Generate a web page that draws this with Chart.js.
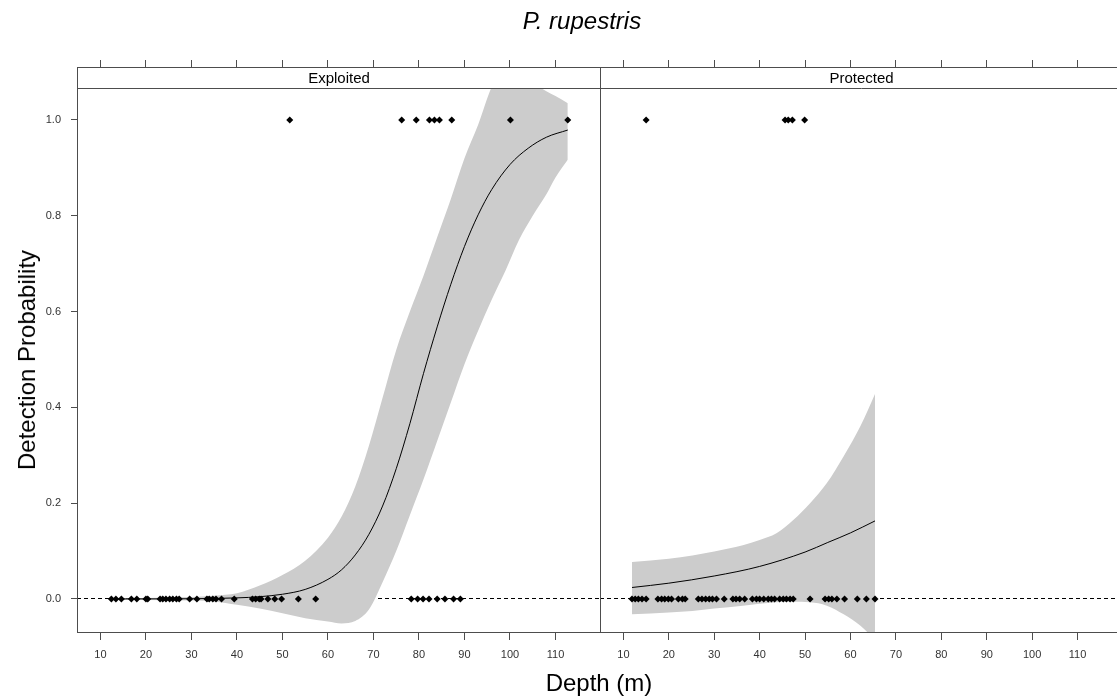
<!DOCTYPE html>
<html>
<head>
<meta charset="utf-8">
<title>P. rupestris</title>
<script src="https://cdn.jsdelivr.net/npm/chart.js@4.4.1/dist/chart.umd.min.js"></script>
<style>
  html, body { margin: 0; padding: 0; background: #fff; overflow: hidden; width: 1117px; height: 698px; }
  body { position: relative; font-family: "Liberation Sans", Arial, sans-serif; }
  .panel { position: absolute; top: 0; }
  #leftPanel { left: 0; }
  #rightPanel { left: 600px; }
  .txt { position: absolute; white-space: nowrap; color: #000; }
  #title { left: 582px; top: 9px; font-size: 24px; line-height: 24px; font-style: italic; transform: translateX(-50%); }
  #ylab { left: 27px; top: 360px; font-size: 24px; line-height: 24px; transform: translate(-50%, -50%) rotate(-90deg); }
  #xlab { left: 599px; top: 671px; font-size: 24px; line-height: 24px; transform: translateX(-50%); }
</style>
</head>
<body>
<canvas id="leftPanel" class="panel" width="601" height="698"></canvas>
<canvas id="rightPanel" class="panel" width="523" height="698"></canvas>
<div id="title" class="txt">P. rupestris</div>
<div id="ylab" class="txt">Detection Probability</div>
<div id="xlab" class="txt">Depth (m)</div>

<script>
// ==================== DATA ====================
const panelNames = ['Exploited', 'Protected'];
const xTicks = [10, 20, 30, 40, 50, 60, 70, 80, 90, 100, 110];
const yTicks = [0, 0.2, 0.4, 0.6, 0.8, 1.0];

// Exploited: observed detections (1) and non-detections (0), depth in m
const expDepth1 = [51.6, 76.2, 79.4, 82.3, 83.4, 84.5, 87.2, 100.1, 112.7];
const expDepth0 = [12.4, 13.4, 14.6, 16.8, 18.0, 20.0, 20.4, 23.1, 23.7, 24.4, 25.2, 25.9, 26.7, 27.3,
  29.6, 31.2, 33.4, 33.9, 34.7, 35.4, 36.6, 39.4, 43.4, 44.1, 44.9, 45.3, 46.8, 48.3, 49.8, 53.5, 57.3,
  78.3, 79.7, 80.9, 82.2, 84.0, 85.7, 87.6, 89.1];
// Exploited: fitted probability and confidence band
const expFitX = [12.4, 20, 30, 40, 45, 50, 55, 60, 63, 66, 69, 72, 75, 78, 81, 84, 87, 90, 93, 96, 100, 104, 108, 112.7];
const expFitP = [0.0001, 0.0002, 0.0005, 0.0023, 0.0048, 0.0099, 0.020, 0.041, 0.061, 0.092, 0.135, 0.194,
  0.272, 0.366, 0.471, 0.568, 0.657, 0.736, 0.802, 0.855, 0.907, 0.941, 0.964, 0.979];
const expBandX = [12.4, 20, 30, 35, 40, 45, 50, 55, 60, 63, 66, 69, 72, 75, 78, 81, 84, 87, 90, 93, 96, 99, 102, 105, 108, 110, 112.7];
const expBandHi = [0.001, 0.002, 0.004, 0.007, 0.012, 0.028, 0.05, 0.08, 0.128, 0.172, 0.235, 0.32, 0.42, 0.52,
  0.60, 0.675, 0.755, 0.835, 0.92, 0.99, 1.07, 1.12, 1.12, 1.08, 1.06, 1.05, 1.035];
const expBandLo = [-0.001, -0.002, -0.003, -0.005, -0.012, -0.02, -0.03, -0.04, -0.047, -0.051, -0.046, -0.022, 0.035,
  0.10, 0.175, 0.25, 0.33, 0.41, 0.49, 0.56, 0.625, 0.685, 0.75, 0.80, 0.845, 0.88, 0.917];

// Protected
const proDepth1 = [15.0, 45.6, 46.3, 47.2, 49.9];
const proDepth0 = [11.9, 12.6, 13.3, 14.1, 15.0, 17.6, 18.4, 19.1, 19.9, 20.6, 22.1, 23.0, 23.6, 26.5, 27.3,
  28.1, 28.9, 29.6, 30.5, 32.2, 34.1, 34.8, 35.6, 36.7, 38.4, 39.3, 40.0, 40.9, 41.9, 42.6, 43.3, 44.4,
  45.2, 45.9, 46.7, 47.4, 51.1, 54.4, 55.2, 55.9, 57.0, 58.7, 61.5, 63.5, 65.4];
const proFitX = [11.9, 20, 30, 40, 50, 55, 60, 65.4];
const proFitP = [0.024, 0.033, 0.048, 0.068, 0.098, 0.118, 0.138, 0.163];
const proBandX = [11.9, 20, 25.2, 30, 36.3, 40, 43.7, 47.4, 51.1, 54.8, 58.5, 62.2, 65.4];
const proBandHi = [0.077, 0.084, 0.091, 0.099, 0.112, 0.123, 0.137, 0.165, 0.2, 0.242, 0.298, 0.361, 0.428];
const proBandLo = [-0.032, -0.028, -0.025, -0.02, -0.014, -0.01, -0.007, -0.006, -0.007, -0.014, -0.032, -0.056, -0.085];

// ==================== STYLE ====================
const FONT = '"Liberation Sans", Arial, sans-serif';
const frameColor = '#4d4d4d';
const labelColor = '#333';
const bandColor = '#cccccc';
const xMin = 4.85, xMax = 120.0;
const yMin = -0.071, yMax = 1.1106;
const stripH = 21;

// ==================== HELPERS ====================
function pairs(xs, ys) { return xs.map((x, i) => ({ x: x, y: ys[i] })); }
function row(xs, v) { return xs.map(x => ({ x: x, y: v })); }

const stripPlugin = {
  id: 'stripPlugin',
  afterDatasetsDraw(chart, args, opts) {
    const ctx = chart.ctx;
    const a = chart.chartArea;
    ctx.save();
    ctx.fillStyle = '#fff';
    ctx.fillRect(a.left, a.top, a.right - a.left, stripH);
    ctx.strokeStyle = frameColor;
    ctx.lineWidth = 1;
    ctx.beginPath();
    ctx.moveTo(a.left, a.top + stripH + 0.5);
    ctx.lineTo(a.right, a.top + stripH + 0.5);
    ctx.stroke();
    ctx.strokeRect(a.left + 0.5, a.top + 0.5, a.right - a.left - 1, a.bottom - a.top - 1);
    ctx.fillStyle = '#000';
    ctx.font = '15px ' + FONT;
    ctx.textAlign = 'center';
    ctx.textBaseline = 'middle';
    ctx.fillText(opts.label, (a.left + a.right) / 2, a.top + stripH / 2 + 1);
    ctx.restore();
  }
};

function dotSet(data) {
  return { data: data, showLine: false, pointStyle: 'rectRot', pointRadius: 3.5,
           backgroundColor: '#000', borderWidth: 0 };
}

function buildDatasets(d1, d0, fx, fp, bx, bhi, blo) {
  return [
    dotSet(row(d1, 1)),
    dotSet(row(d0, 0)),
    { data: pairs(fx, fp), showLine: true, borderColor: '#000', borderWidth: 1, pointRadius: 0,
      fill: false, cubicInterpolationMode: 'monotone' },
    { data: pairs(bx, bhi), showLine: true, borderColor: 'rgba(0,0,0,0)', borderWidth: 0, pointRadius: 0,
      backgroundColor: bandColor, fill: '+1', cubicInterpolationMode: 'monotone' },
    { data: pairs(bx, blo), showLine: true, borderColor: 'rgba(0,0,0,0)', borderWidth: 0, pointRadius: 0,
      fill: false, cubicInterpolationMode: 'monotone' }
  ];
}

// no extra room for tick labels: panels sit edge to edge
function noPadX(s, h) { s.height = h; s.paddingLeft = 0; s.paddingRight = 0; }

function panelOptions(isLeft, label) {
  return {
    responsive: false,
    animation: false,
    events: [],
    layout: { padding: 0, autoPadding: false },
    plugins: {
      legend: { display: false },
      tooltip: { enabled: false },
      stripPlugin: { label: label }
    },
    scales: {
      x: {
        type: 'linear', position: 'bottom', min: xMin, max: xMax,
        afterBuildTicks: s => { s.ticks = xTicks.map(v => ({ value: v })); },
        afterFit: s => noPadX(s, 65),
        grid: { drawOnChartArea: false, drawTicks: true, tickLength: 7, tickColor: frameColor },
        border: { display: false },
        ticks: { color: labelColor, font: { family: FONT, size: 11 }, padding: 8,
                 maxRotation: 0, autoSkip: false, callback: v => String(v) }
      },
      x2: {
        type: 'linear', position: 'top', min: xMin, max: xMax,
        afterBuildTicks: s => { s.ticks = xTicks.map(v => ({ value: v })); },
        afterFit: s => noPadX(s, 67),
        grid: { drawOnChartArea: false, drawTicks: true, tickLength: 7, tickColor: frameColor },
        border: { display: false },
        ticks: { display: false }
      },
      y: {
        type: 'linear', position: 'left', min: yMin, max: yMax, z: 1,
        afterBuildTicks: s => { s.ticks = yTicks.map(v => ({ value: v })); },
        afterFit: s => { s.width = isLeft ? 77 : 0; s.paddingTop = 0; s.paddingBottom = 0; },
        grid: {
          drawTicks: isLeft, tickLength: 6, tickColor: frameColor, lineWidth: 1,
          color: c => (c.tick && c.tick.value === 0) ? '#000' : 'rgba(0,0,0,0)'
        },
        border: { display: false, dash: [4, 3] },
        ticks: { display: isLeft, color: labelColor, font: { family: FONT, size: 11 }, padding: 10,
                 callback: v => Number(v).toFixed(1) }
      }
    }
  };
}

// ==================== CHARTS ====================
new Chart(document.getElementById('leftPanel'), {
  type: 'scatter',
  data: { datasets: buildDatasets(expDepth1, expDepth0, expFitX, expFitP, expBandX, expBandHi, expBandLo) },
  options: panelOptions(true, panelNames[0]),
  plugins: [stripPlugin]
});

new Chart(document.getElementById('rightPanel'), {
  type: 'scatter',
  data: { datasets: buildDatasets(proDepth1, proDepth0, proFitX, proFitP, proBandX, proBandHi, proBandLo) },
  options: panelOptions(false, panelNames[1]),
  plugins: [stripPlugin]
});
</script>
</body>
</html>
